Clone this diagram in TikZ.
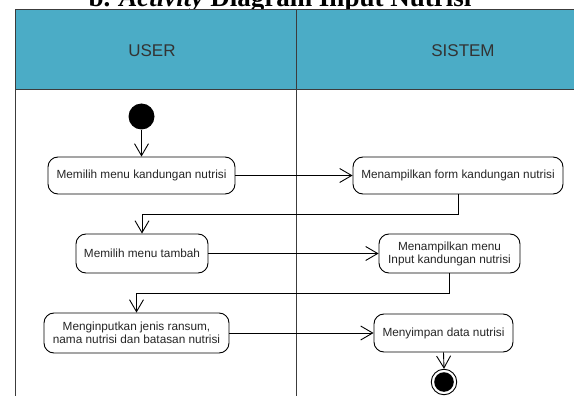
\documentclass[tikz,border=0pt]{standalone}
\usepackage{fontspec}
\setmainfont{Liberation Sans}
\newfontfamily\titlefont{Liberation Serif}
\usetikzlibrary{arrows.meta}
\definecolor{hdr}{RGB}{75,172,198}
\definecolor{lanel}{RGB}{60,60,60}
\tikzset{
  act/.style={draw=black, line width=0.9pt, rounded corners=10pt, align=center, inner sep=0pt,
    font=\fontsize{11.8}{13}\selectfont, text=black!85},
  flow/.style={draw=black, line width=0.9pt, -{Straight Barb[length=12pt,width=14pt,line width=0.9pt]}},
  lane/.style={draw=lanel, line width=1pt},
  hdrtext/.style={font=\fontsize{17}{19}\selectfont, text=black!80}
}
\begin{document}
\begin{tikzpicture}[x=1pt,y=-1pt]
\useasboundingbox (0,0) rectangle (574,396);
\clip (0,0) rectangle (574,396);
\fill[white] (0,0) rectangle (574,396);
% title (cut off at the top)
\node[anchor=base, inner sep=0pt] (title) at (280,7) {\titlefont\fontsize{27}{30}\selectfont\bfseries b. \textit{Activity} Diagram Input Nutrisi};
% swimlanes
\fill[hdr] (15,10) rectangle (640,90);
\draw[lane] (15,400) -- (15,10) -- (640,10);
\draw[lane] (15,90) -- (640,90);
\draw[lane] (296,10) -- (296,400);
\node[hdrtext] (user) at (152,51) {USER};
\node[hdrtext] (sistem) at (463,51) {SISTEM};
% initial and final nodes
\node[circle, fill=black, minimum size=26pt, inner sep=0pt] (init) at (141.5,116.5) {};
\node[circle, draw=black, line width=0.9pt, fill=white, minimum size=25.5pt, inner sep=0pt] (final) at (444,382) {};
\fill[black] (final.center) circle (9.8pt);
% activities
\node[act, minimum width=187pt, minimum height=37pt] (a1) at (141.5,175.5) {Memilih menu kandungan nutrisi};
\node[act, minimum width=210pt, minimum height=37pt] (s1) at (458,175.5) {Menampilkan form kandungan nutrisi};
\node[act, minimum width=132pt, minimum height=39pt] (a2) at (142,253.5) {Memilih menu tambah};
\node[act, minimum width=141pt, minimum height=39pt] (s2) at (449.5,253.5) {Menampilkan menu\\Input kandungan nutrisi};
\node[act, minimum width=185pt, minimum height=40pt] (a3) at (136.5,333) {Menginputkan jenis ransum,\\nama nutrisi dan batasan nutrisi};
\node[act, minimum width=139pt, minimum height=38pt] (s3) at (443.5,333) {Menyimpan data nutrisi};
\coordinate (r1) at (0,214);
\coordinate (r2) at (0,293);
% flows
\draw[flow] (init) -- (a1.north);
\draw[flow] (a1.east) -- (s1.west);
\draw[flow] (s1.south) -- (s1.south |- r1) -| (a2.north);
\draw[flow] (a2.east) -- (s2.west);
\draw[flow] (s2.south) -- (s2.south |- r2) -| (a3.north);
\draw[flow] (a3.east) -- (s3.west);
\draw[flow] (s3.south) -- (final.north);
\end{tikzpicture}
\end{document}
